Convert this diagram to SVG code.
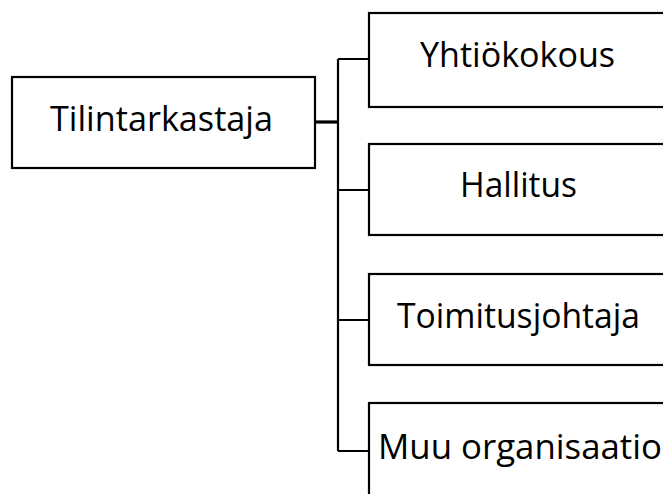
<svg xmlns="http://www.w3.org/2000/svg" width="663" height="494" viewBox="0 0 663 494">
<style>
.box{fill:#fff;stroke:#000;stroke-width:2.2}
.t{font-family:"Open Sans","Liberation Sans",sans-serif;font-size:34px;fill:#000}
.c{fill:none;stroke:#000;stroke-width:2.2}
</style>
<rect width="663" height="494" fill="#fff"/>
<g id="connectors">
<path class="c" d="M338 59V451M338 59H369M338 190H369M338 320H369M338 451H369"/>
<path class="c" style="stroke-width:3.2" d="M315 122H339"/>
</g>
<g id="tilintarkastaja">
<rect class="box" x="12" y="77" width="303" height="91"/>
<text class="t" x="50" y="131" textLength="223" lengthAdjust="spacingAndGlyphs">Tilintarkastaja</text>
</g>
<g id="yhtiokokous">
<rect class="box" x="369" y="13" width="320" height="94"/>
<text class="t" x="420" y="67" textLength="195" lengthAdjust="spacingAndGlyphs">Yhtiökokous</text>
</g>
<g id="hallitus">
<rect class="box" x="369" y="144" width="320" height="91"/>
<text class="t" x="460" y="197" textLength="117" lengthAdjust="spacingAndGlyphs">Hallitus</text>
</g>
<g id="toimitusjohtaja">
<rect class="box" x="369" y="274" width="320" height="91"/>
<text class="t" x="397" y="328" textLength="243" lengthAdjust="spacingAndGlyphs">Toimitusjohtaja</text>
</g>
<g id="muu">
<rect class="box" x="369" y="403" width="320" height="120"/>
<text class="t" x="378" y="459" textLength="284" lengthAdjust="spacingAndGlyphs">Muu organisaatio</text>
</g>
</svg>
